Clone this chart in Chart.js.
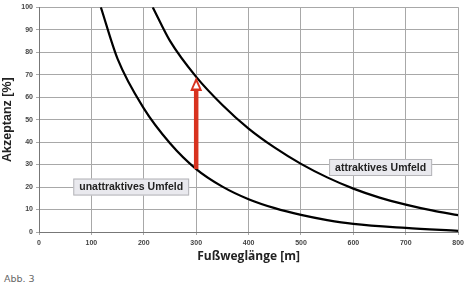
<!DOCTYPE html>
<html>
<head>
<meta charset="utf-8">
<script src="https://cdn.jsdelivr.net/npm/chart.js@4.4.0/dist/chart.umd.min.js"></script>
<style>
  body { margin: 0; background: #fff; }
  #wrap { position: relative; width: 468px; height: 264px; }
  #note { font-family: "DejaVu Sans", sans-serif; font-size: 9.5px; color: #666; margin: 9px 0 0 4px; }
</style>
</head>
<body>
<div id="wrap"><canvas id="chart" width="468" height="264"></canvas></div>
<div id="note">Abb. 3</div>
<script>
// Kurven
const lowX = [118, 150, 200, 250, 300, 350, 400, 450, 500, 550, 600, 700, 800];
const lowY = [100, 77, 55, 39.5, 28, 20.2, 14.6, 10.6, 7.6, 5.3, 3.6, 1.8, 0.5];
const highX = [217, 250, 300, 350, 400, 450, 500, 550, 600, 650, 700, 750, 800];
const highY = [100, 85, 69, 56.5, 46, 37.5, 30.3, 24.3, 19.3, 15.3, 12.2, 9.6, 7.5];

// Pfeil bei 300 m
const arrowX = 300;
const arrowFrom = 28;
const arrowTo = 69;

// Beschriftungen
const labels = [
    { text: "unattraktives Umfeld", x: 176, y: 20 },
    { text: "attraktives Umfeld", x: 652, y: 28.7 }
];

function toPoints(xs, ys) {
    return xs.map((x, i) => ({ x: x, y: ys[i] }));
}

// Pfeil und Textboxen zeichnen
const extras = {
    id: "extras",
    afterDatasetsDraw(chart) {
        let ctx = chart.ctx;
        let sx = chart.scales.x, sy = chart.scales.y;
        let px = sx.getPixelForValue(arrowX);
        let y0 = sy.getPixelForValue(arrowFrom);
        let y1 = sy.getPixelForValue(arrowTo);
        ctx.save();
        ctx.strokeStyle = "#d8321f";
        ctx.lineWidth = 4.5;
        ctx.beginPath();
        ctx.moveTo(px, y0);
        ctx.lineTo(px, y1 + 11);
        ctx.stroke();
        // Pfeilspitze
        ctx.fillStyle = "#d8321f";
        ctx.beginPath();
        ctx.moveTo(px, y1);
        ctx.lineTo(px - 6, y1 + 14);
        ctx.lineTo(px + 6, y1 + 14);
        ctx.closePath();
        ctx.fill();
        ctx.fillStyle = "#fff";
        ctx.beginPath();
        ctx.moveTo(px, y1 + 5);
        ctx.lineTo(px - 3, y1 + 11.5);
        ctx.lineTo(px + 3, y1 + 11.5);
        ctx.closePath();
        ctx.fill();

        ctx.font = "bold 10.5px 'Liberation Sans', Arial, sans-serif";
        ctx.textAlign = "center";
        ctx.textBaseline = "middle";
        labels.forEach(l => {
            let cx = sx.getPixelForValue(l.x);
            let cy = sy.getPixelForValue(l.y);
            let w = ctx.measureText(l.text).width + 12;
            let h = 17;
            ctx.fillStyle = "#e9e9ee";
            ctx.fillRect(cx - w / 2, cy - h / 2, w, h);
            ctx.strokeStyle = "#b4b4b8";
            ctx.lineWidth = 1;
            ctx.strokeRect(cx - w / 2 + 0.5, cy - h / 2 + 0.5, w - 1, h - 1);
            ctx.fillStyle = "#222";
            ctx.fillText(l.text, cx, cy + 0.5);
        });
        ctx.restore();
    }
};

const ctx = document.getElementById("chart").getContext("2d");
new Chart(ctx, {
    type: "line",
    data: {
        datasets: [
            { data: toPoints(lowX, lowY), borderColor: "#000", borderWidth: 2.2, pointRadius: 0, cubicInterpolationMode: "monotone", fill: false },
            { data: toPoints(highX, highY), borderColor: "#000", borderWidth: 2.2, pointRadius: 0, cubicInterpolationMode: "monotone", fill: false }
        ]
    },
    options: {
        responsive: false,
        animation: false,
        maintainAspectRatio: false,
        layout: { padding: { top: 4, right: 8, left: 0, bottom: 0 } },
        plugins: { legend: { display: false }, tooltip: { enabled: false } },
        scales: {
            x: {
                type: "linear",
                min: 0, max: 800,
                ticks: { stepSize: 100, color: "#444", font: { size: 7, weight: "bold", family: "'Liberation Sans', Arial" }, padding: 4, maxRotation: 0 },
                grid: { color: "#a8a8a8", lineWidth: 1, tickLength: 3 },
                border: { color: "#777", width: 1 },
                title: { display: true, text: "Fußweglänge [m]", color: "#222", font: { size: 12, weight: "bold", family: "'Open Sans', sans-serif" }, padding: { top: 0, bottom: 0 } },
                afterFit(scale) { scale.height = 32; }
            },
            y: {
                min: 0, max: 100,
                ticks: { stepSize: 10, color: "#444", font: { size: 7, weight: "bold", family: "'Liberation Sans', Arial" }, padding: 3 },
                grid: { color: "#a8a8a8", lineWidth: 1, tickLength: 3 },
                border: { color: "#777", width: 1 },
                title: { display: true, text: "Akzeptanz [%]", color: "#222", font: { size: 12.5, weight: "bold", family: "'Liberation Sans', Arial" }, padding: { top: 0, bottom: 1 } },
                afterFit(scale) { scale.width = 39; }
            }
        }
    },
    plugins: [extras]
});
</script>
</body>
</html>
